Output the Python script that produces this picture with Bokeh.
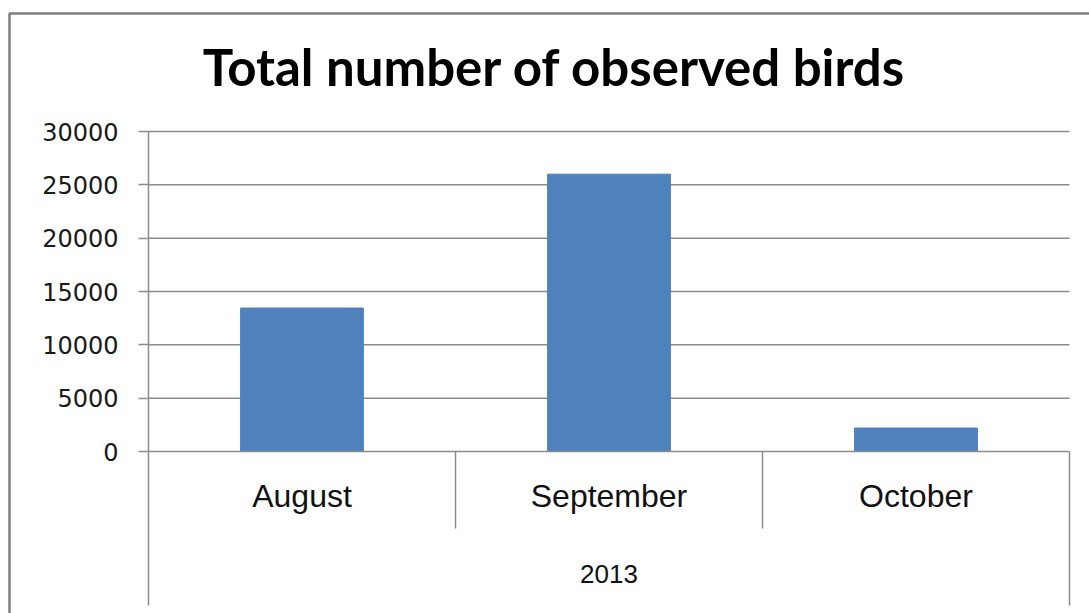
from bokeh.plotting import figure
from bokeh.models import (ColumnDataSource, FixedTicker, Label, BoxAnnotation,
                          NumeralTickFormatter, Range1d)
from bokeh.embed import file_html
from bokeh.resources import INLINE

# ---- data ----
chart_title = "Total number of observed birds"
year = "2013"
months = ["August", "September", "October"]
birds = [13450, 26000, 2200]
y_ticks = [0, 5000, 10000, 15000, 20000, 25000, 30000]

# ---- layout (pixels) ----
W, H = 1089, 613
PX_L, PX_R, PX_T, PX_B = 148, 1069, 131, 451     # plot area corners
FR_L, FR_T = 6, 10                                # frame origin
n = len(months)
y_max = y_ticks[-1]
dx = n / (PX_R - PX_L)
dy = y_max / (PX_B - PX_T)
x_start, x_end = -(PX_L - FR_L) * dx, n + (W - PX_R) * dx
y_start, y_end = -(H - PX_B) * dy, y_max + (PX_T - FR_T) * dy

GRAY = "#8c8c8c"
BLUE = "#4F81BD"

centers = [i + 0.5 for i in range(n)]
src = ColumnDataSource(dict(x=centers, month=months, birds=birds))

p = figure(x_range=Range1d(x_start, x_end), y_range=Range1d(y_start, y_end),
           width=W, height=H, output_backend="svg", toolbar_location=None,
           min_border_left=FR_L, min_border_right=0,
           min_border_top=FR_T, min_border_bottom=0)
p.outline_line_color = None
p.xgrid.visible = False
p.ygrid.visible = False

# gridlines across the plot area
grid_src = ColumnDataSource(dict(y=y_ticks[1:]))
p.segment(x0=0, x1=n, y0="y", y1="y", source=grid_src,
          line_color=GRAY, line_width=1.5)

# category separators (Excel-style multi-level axis)
bounds = list(range(n + 1))
sep_src = ColumnDataSource(dict(
    x=bounds,
    y1=[-(154 if b in (0, n) else 77) * dy for b in bounds]))
p.segment(x0="x", x1="x", y0=0, y1="y1", source=sep_src,
          line_color=GRAY, line_width=1.5)

# bars
p.vbar(x="x", top="birds", width=0.4, source=src,
       fill_color=BLUE, line_color=BLUE)

# y axis
ya = p.yaxis[0]
ya.fixed_location = 0
ya.bounds = (0, y_max)
ya.ticker = FixedTicker(ticks=y_ticks)
ya.formatter = NumeralTickFormatter(format="0")
ya.axis_line_color = GRAY
ya.axis_line_width = 1.5
ya.major_tick_line_color = GRAY
ya.major_tick_line_width = 1.5
ya.major_tick_out = 10
ya.major_tick_in = 0
ya.minor_tick_line_color = None
ya.major_label_standoff = 20
ya.major_label_text_font = "DejaVu Sans"
ya.major_label_text_font_size = "24px"
ya.major_label_text_color = "#1a1a1a"

# x axis
xa = p.xaxis[0]
xa.fixed_location = 0
xa.bounds = (0, n)
xa.ticker = FixedTicker(ticks=centers)
xa.major_label_overrides = {c: m for c, m in zip(centers, months)}
xa.axis_line_color = GRAY
xa.axis_line_width = 1.5
xa.major_tick_line_color = None
xa.minor_tick_line_color = None
xa.major_tick_out = 0
xa.major_tick_in = 0
xa.major_label_standoff = 26
xa.major_label_text_font = "Liberation Sans"
xa.major_label_text_font_size = "32px"
xa.major_label_text_color = "#111111"
xa.axis_label = year
xa.axis_label_text_font = "Liberation Sans"
xa.axis_label_text_font_style = "normal"
xa.axis_label_text_font_size = "26px"
xa.axis_label_text_color = "#111111"
xa.axis_label_standoff = 48

# chart border (left/top edges visible)
p.add_layout(BoxAnnotation(left=-(PX_L - 9) * dx, top=y_max + (PX_T - 13) * dy,
                           right=x_end + 10, bottom=y_start - y_max,
                           fill_alpha=0, line_color="#7f7f7f", line_alpha=1.0,
                           line_width=2.5))

# title
p.add_layout(Label(x=(554 - PX_L) * dx, y=y_max + (PX_T - 66) * dy, text=chart_title,
                   text_align="center", text_baseline="middle",
                   text_font="Lato", text_font_style="bold",
                   text_font_size="51px", text_color="#000000"))

open("out.html", "w").write(file_html(p, INLINE))
